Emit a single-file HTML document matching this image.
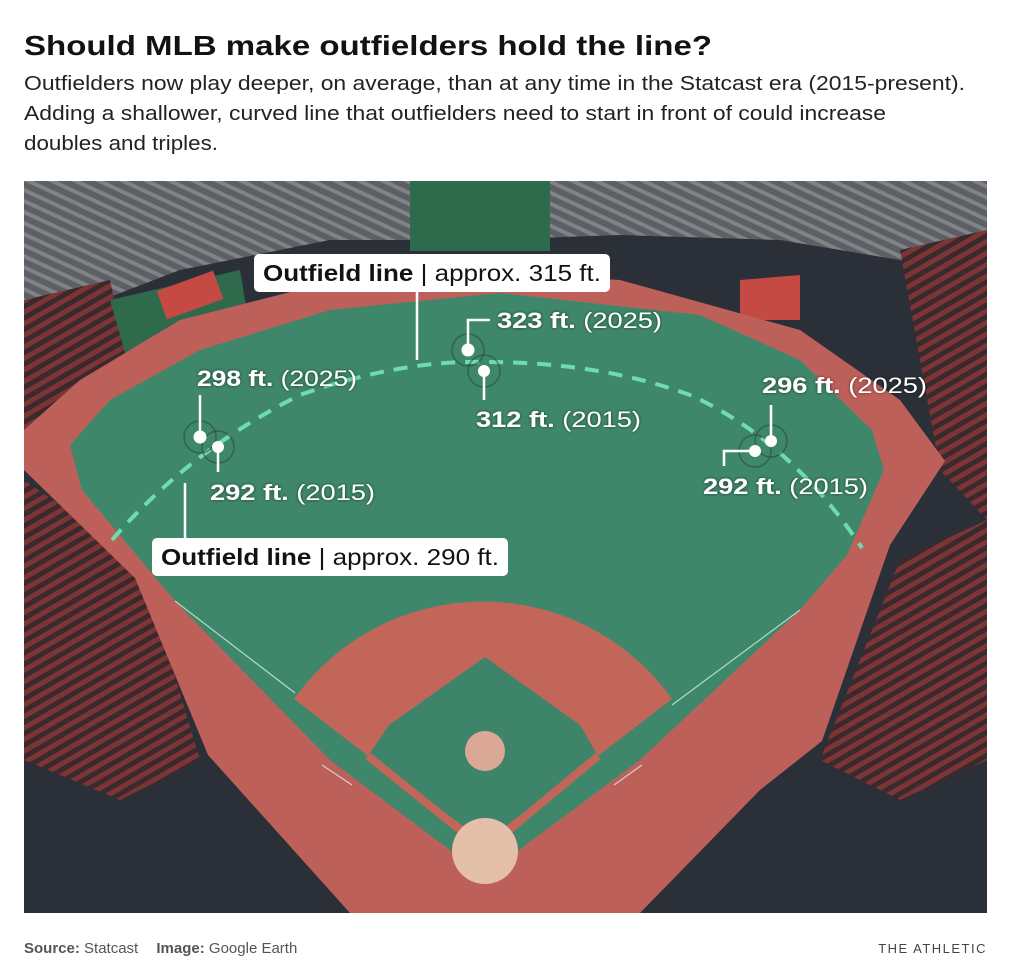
<!DOCTYPE html>
<html><head><meta charset="utf-8"><style>
html,body{margin:0;padding:0;background:#fff;}
svg{display:block;font-family:"Liberation Sans",sans-serif;}
</style></head><body>
<svg width="1011" height="979" viewBox="0 0 1011 979">
<defs>
<clipPath id="imgclip"><rect x="24" y="181" width="963" height="732"/></clipPath>
<pattern id="stands" width="10" height="10" patternUnits="userSpaceOnUse" patternTransform="rotate(25)">
<rect width="10" height="10" fill="#5c5f63"/><rect width="10" height="4" fill="#808286"/></pattern>
<pattern id="redseats" width="10" height="10" patternUnits="userSpaceOnUse" patternTransform="rotate(-30)">
<rect width="10" height="10" fill="#3a2a2e"/><rect width="10" height="5" fill="#7d3434"/></pattern>
<filter id="sh"><feDropShadow dx="0" dy="0" stdDeviation="1.5" flood-color="#000" flood-opacity="0.6"/></filter>
</defs>
<text x="24" y="55" font-size="28" font-weight="bold" fill="#121212" textLength="688" lengthAdjust="spacingAndGlyphs">Should MLB make outfielders hold the line?</text>
<g font-size="20" fill="#222">
<text x="24" y="90" textLength="941" lengthAdjust="spacingAndGlyphs">Outfielders now play deeper, on average, than at any time in the Statcast era (2015-present).</text>
<text x="24" y="120" textLength="862" lengthAdjust="spacingAndGlyphs">Adding a shallower, curved line that outfielders need to start in front of could increase</text>
<text x="24" y="150" textLength="194" lengthAdjust="spacingAndGlyphs">doubles and triples.</text>
</g>
<g clip-path="url(#imgclip)">
<rect x="24" y="181" width="963" height="732" fill="#2b3038"/>
<polygon points="24,181 987,181 987,290 900,260 780,240 620,235 480,240 330,240 180,270 24,330" fill="url(#stands)"/>
<rect x="410" y="181" width="140" height="70" fill="#2e6a4c"/>
<polygon points="24,300 110,280 140,420 24,470" fill="url(#redseats)"/>
<polygon points="900,250 987,230 987,520 940,470" fill="url(#redseats)"/>
<polygon points="24,480 140,560 200,760 120,800 24,760" fill="url(#redseats)"/>
<polygon points="987,520 900,560 820,760 900,800 987,760" fill="url(#redseats)"/>
<polygon points="110,300 240,270 250,330 130,370" fill="#2f6a4c"/>
<rect x="160" y="280" width="60" height="30" fill="#c54a44" transform="rotate(-20 190 295)"/>
<polygon points="740,280 800,275 800,320 740,320" fill="#c54a44"/>
<polygon points="24,430 80,380 180,320 330,282 480,272 620,280 800,330 900,400 945,461 890,545 822,741 760,790 640,913 350,913 208,755 135,578 24,470" fill="#be605a"/>
<polygon points="70,445 82,490 175,601 330,760 454,853 515,853 640,760 800,610 847,555 884,470 872,430 800,360 700,315 500,293 330,310 200,350 110,400" fill="#3f876b"/>
<path d="M294,699 A232,232 0 0 1 672,699 L598,756 L485,850 L368,756 Z" fill="#c26659"/>
<polygon points="485,657 580,725 598,756 485,842 368,756 389,725" fill="#3d846a"/>
<path d="M485,850 L368,756 M485,850 L598,756" stroke="#c26659" stroke-width="8"/>
<line x1="175" y1="601" x2="295" y2="693" stroke="#dfe" stroke-width="1.2" opacity="0.7"/>
<line x1="800" y1="610" x2="672" y2="705" stroke="#dfe" stroke-width="1.2" opacity="0.7"/>
<line x1="322" y1="765" x2="352" y2="785" stroke="#dfe" stroke-width="1.2" opacity="0.7"/>
<line x1="642" y1="765" x2="614" y2="785" stroke="#dfe" stroke-width="1.2" opacity="0.7"/>
<circle cx="485" cy="751" r="20" fill="#dba897"/>
<circle cx="485" cy="851" r="33" fill="#e4bfa9"/>
</g>
<g>
<path d="M112,540 Q190,450 300,395 Q400,360 485,362 Q600,362 690,395 Q790,440 862,548" fill="none" stroke="#6fdcb0" stroke-width="4" stroke-dasharray="14 10"/>
</g>
<g fill="none" stroke="#fff" stroke-width="2.5">
<circle cx="200" cy="437" r="16" stroke="#2a4a3c" stroke-width="1.5" opacity="0.6"/>
<circle cx="218" cy="447" r="16" stroke="#2a4a3c" stroke-width="1.5" opacity="0.6"/>
<circle cx="468" cy="350" r="16" stroke="#2a4a3c" stroke-width="1.5" opacity="0.6"/>
<circle cx="484" cy="371" r="16" stroke="#2a4a3c" stroke-width="1.5" opacity="0.6"/>
<circle cx="771" cy="441" r="16" stroke="#2a4a3c" stroke-width="1.5" opacity="0.6"/>
<circle cx="755" cy="451" r="16" stroke="#2a4a3c" stroke-width="1.5" opacity="0.6"/>
<path d="M200,395 V432 M218,452 V472 M468,345 V320 H490 M484,376 V400 M771,436 V405 M750,451 H724 V466 M417,292 V360 M185,483 V538"/>
<g fill="#fff" stroke="none">
<circle cx="200" cy="437" r="6.5"/><circle cx="218" cy="447" r="6"/>
<circle cx="468" cy="350" r="6.5"/><circle cx="484" cy="371" r="6"/>
<circle cx="771" cy="441" r="6"/><circle cx="755" cy="451" r="6"/>
</g>
</g>
<g font-size="22" fill="#fff" filter="url(#sh)">
<text x="197" y="386" textLength="160" lengthAdjust="spacingAndGlyphs"><tspan font-weight="bold">298 ft.</tspan> (2025)</text>
<text x="210" y="500" textLength="165" lengthAdjust="spacingAndGlyphs"><tspan font-weight="bold">292 ft.</tspan> (2015)</text>
<text x="497" y="328" textLength="165" lengthAdjust="spacingAndGlyphs"><tspan font-weight="bold">323 ft.</tspan> (2025)</text>
<text x="476" y="427" textLength="165" lengthAdjust="spacingAndGlyphs"><tspan font-weight="bold">312 ft.</tspan> (2015)</text>
<text x="762" y="393" textLength="165" lengthAdjust="spacingAndGlyphs"><tspan font-weight="bold">296 ft.</tspan> (2025)</text>
<text x="703" y="494" textLength="165" lengthAdjust="spacingAndGlyphs"><tspan font-weight="bold">292 ft.</tspan> (2015)</text>
</g>
<g>
<rect x="254" y="254" width="356" height="38" rx="5" fill="#fff"/>
<text x="263" y="281" font-size="23" fill="#121212" textLength="338" lengthAdjust="spacingAndGlyphs"><tspan font-weight="bold">Outfield line</tspan> | approx. 315 ft.</text>
</g>
<g>
<rect x="152" y="538" width="356" height="38" rx="5" fill="#fff"/>
<text x="161" y="565" font-size="23" fill="#121212" textLength="338" lengthAdjust="spacingAndGlyphs"><tspan font-weight="bold">Outfield line</tspan> | approx. 290 ft.</text>
</g>
<text x="24" y="953" font-size="15" fill="#555"><tspan font-weight="bold">Source:</tspan> Statcast <tspan dx="14" font-weight="bold">Image:</tspan> Google Earth</text>
<text x="987" y="953" font-size="13" fill="#444" text-anchor="end" letter-spacing="1.5">THE ATHLETIC</text>
</svg>
</body></html>
